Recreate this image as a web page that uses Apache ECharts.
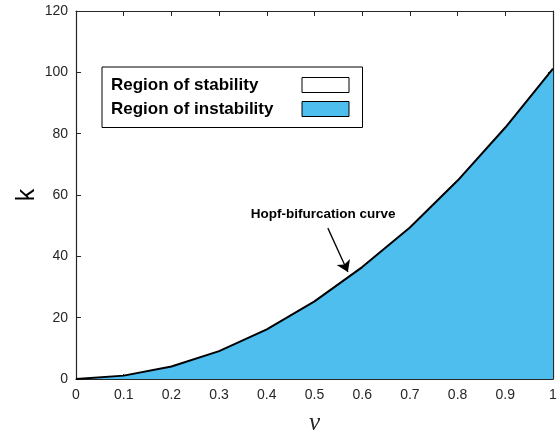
<!DOCTYPE html>
<html>
<head>
<meta charset="utf-8">
<script src="https://cdn.jsdelivr.net/npm/echarts@6/dist/echarts.min.js"></script>
<style>
  html, body { margin: 0; padding: 0; background: #fff; }
  #chart { width: 560px; height: 439px; }
</style>
</head>
<body>
<div id="chart"></div>
<script>
// Hopf bifurcation boundary k(ν); the region below the curve is unstable.
const nu = [0, 0.1, 0.2, 0.3, 0.4, 0.5, 0.6, 0.7, 0.8, 0.9, 1.0];
const kValues = [0, 1.1, 4.1, 9.1, 16.2, 25.3, 36.5, 49.4, 64.7, 82.0, 101.2];
const legendNames = ['Region of stability', 'Region of instability'];
const curveLabel = 'Hopf-bifurcation curve';
// annotation anchor points in data units: label centre, arrow tail, arrow tip
const labelAt = [0.518, 53.8];
const arrowFrom = [0.528, 49.2];
const arrowTo = [0.570, 34.9];

const axisColor = '#262626';
const fillColor = '#4DBEEE';
const font = 'Liberation Sans, Arial, Helvetica, sans-serif';

const chart = echarts.init(document.getElementById('chart'), null, { renderer: 'canvas' });

const baseX = {
  type: 'value', min: 0, max: 1, interval: 0.1,
  axisLine: { show: true, onZero: false, lineStyle: { color: axisColor, width: 1.2 } },
  axisTick: { show: true, inside: true, length: 5, lineStyle: { color: axisColor, width: 1 } },
  splitLine: { show: false }
};
const baseY = {
  type: 'value', min: 0, max: 120, interval: 20,
  axisLine: { show: true, onZero: false, lineStyle: { color: axisColor, width: 1.2 } },
  axisTick: { show: true, inside: true, length: 5, lineStyle: { color: axisColor, width: 1 } },
  splitLine: { show: false }
};

chart.setOption({
  animation: false,
  backgroundColor: '#fff',
  grid: { left: 76, right: 7, top: 11, bottom: 60, containLabel: false, outerBoundsMode: 'none' },
  xAxis: [
    Object.assign({}, baseX, {
      position: 'bottom',
      name: 'ν', nameLocation: 'middle', nameGap: 32,
      nameTextStyle: { fontFamily: 'Liberation Serif, Times New Roman, serif', fontStyle: 'italic', fontSize: 25, color: axisColor },
      axisLabel: { show: true, margin: 9, fontSize: 14, fontFamily: font, color: axisColor }
    }),
    Object.assign({}, baseX, { position: 'top', axisLabel: { show: false } })
  ],
  yAxis: [
    Object.assign({}, baseY, {
      position: 'left',
      name: 'k', nameLocation: 'middle', nameGap: 36, nameMoveOverlap: false,
      nameTextStyle: { fontFamily: font, fontSize: 25, color: '#000' },
      axisLabel: { show: true, margin: 8, fontSize: 14, fontFamily: font, color: axisColor }
    }),
    Object.assign({}, baseY, { position: 'right', axisLabel: { show: false } })
  ],
  legend: {
    orient: 'vertical',
    left: 102, top: 67,
    padding: [9.5, 13, 10, 9],
    itemGap: 7,
    itemWidth: 47, itemHeight: 15,
    align: 'right',
    icon: 'rect',
    borderColor: '#000', borderWidth: 1,
    backgroundColor: '#fff',
    selectedMode: false,
    formatter: name => '{t|' + name + '}',
    textStyle: {
      rich: {
        t: { fontFamily: font, fontWeight: 'bold', fontSize: 17, color: '#000', width: 186, lineHeight: 20, align: 'left' }
      }
    },
    data: [
      { name: legendNames[0], itemStyle: { color: '#fff', borderColor: '#000', borderWidth: 1 } },
      { name: legendNames[1], itemStyle: { color: fillColor, borderColor: '#000', borderWidth: 1 } }
    ]
  },
  series: [
    {
      name: legendNames[0],
      type: 'line',
      data: [],
      itemStyle: { color: '#fff' }
    },
    {
      name: legendNames[1],
      type: 'line',
      xAxisIndex: 0, yAxisIndex: 0,
      data: nu.map((v, i) => [v, kValues[i]]),
      showSymbol: false,
      symbol: 'none',
      lineStyle: { color: '#000', width: 2 },
      itemStyle: { color: fillColor },
      areaStyle: { color: fillColor, opacity: 1, origin: 'start' },
      z: 2,
      markLine: {
        silent: true,
        symbol: ['none', 'arrow'],
        symbolSize: 11,
        label: { show: false },
        lineStyle: { color: '#000', width: 1.3, type: 'solid' },
        data: [[{ coord: arrowFrom }, { coord: arrowTo }]]
      },
      markPoint: {
        silent: true,
        symbol: 'circle', symbolSize: 0,
        label: {
          show: true, position: 'inside',
          formatter: curveLabel,
          fontFamily: font, fontWeight: 'bold', fontSize: 13.5, color: '#000'
        },
        data: [{ coord: labelAt }]
      }
    }
  ]
});
</script>
</body>
</html>
